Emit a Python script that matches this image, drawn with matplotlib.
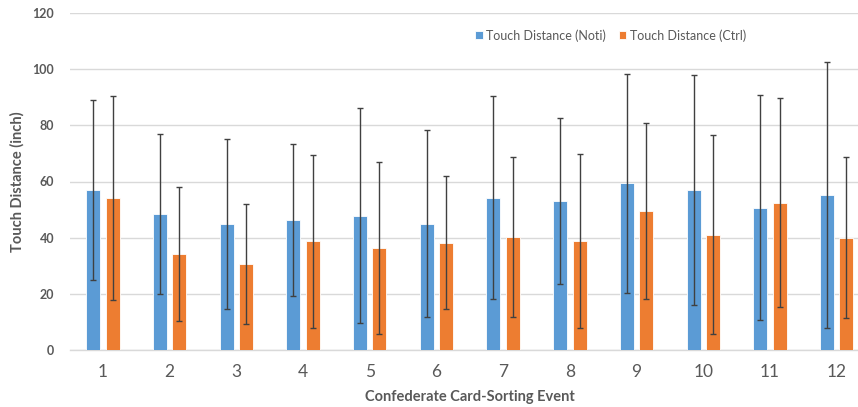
import numpy as np
import matplotlib
matplotlib.use("Agg")
import matplotlib.pyplot as plt

plt.rcParams['font.family'] = ['Lato', 'DejaVu Sans']

events = [str(i) for i in range(1, 13)]
noti_mean = [57.0, 48.4, 45.0, 46.2, 47.8, 45.0, 54.2, 53.0, 59.4, 57.0, 50.7, 55.3]
noti_sd = [31.9, 28.5, 30.3, 27.1, 38.2, 33.4, 36.2, 29.5, 39.0, 41.0, 40.0, 47.4]
ctrl_mean = [54.1, 34.2, 30.7, 38.7, 36.4, 38.2, 40.4, 38.7, 49.6, 41.0, 52.5, 40.0]
ctrl_sd = [36.3, 24.0, 21.4, 30.8, 30.7, 23.7, 28.5, 31.0, 31.4, 35.4, 37.1, 28.6]

blue = "#5B9BD5"
orange = "#ED7D31"
grey_text = "#595959"

fig = plt.figure(figsize=(8.58, 4.07), dpi=100)
ax = fig.add_axes([69.6 / 858, 57 / 407, (858 - 69.6) / 858, 337 / 407])

x = np.arange(1, len(events) + 1)
w = 0.21
off = 0.145
err_kw = dict(ecolor="#404040", elinewidth=1.0, capsize=2.5, capthick=1.0)

ax.bar(x - off, noti_mean, w, yerr=noti_sd, color=blue, edgecolor="white",
       linewidth=0.6, label="Touch Distance (Noti)", error_kw=err_kw, zorder=3)
ax.bar(x + off, ctrl_mean, w, yerr=ctrl_sd, color=orange, edgecolor="white",
       linewidth=0.6, label="Touch Distance (Ctrl)", error_kw=err_kw, zorder=3)

ax.set_xlim(0.5, 12.32)
ax.set_ylim(0, 120)
ax.set_yticks(range(0, 121, 20))
ax.set_xticks(x)
ax.set_xticklabels(events)

ax.grid(axis="y", color="#D9D9D9", linewidth=1.0, zorder=0)
for s in ["top", "right", "left"]:
    ax.spines[s].set_visible(False)
ax.spines["bottom"].set_color("#D9D9D9")
ax.spines["bottom"].set_linewidth(1.0)
ax.tick_params(axis="both", length=0)
ax.tick_params(axis="x", labelsize=12.5, colors=grey_text, pad=10)
ax.tick_params(axis="y", labelsize=9, colors=grey_text, pad=11)
for lab in ax.get_yticklabels():
    lab.set_fontweight("bold")

ax.set_xlabel("Confederate Card-Sorting Event", fontsize=10.5, fontweight="bold",
              color=grey_text)
ax.xaxis.set_label_coords((470 - 69.6) / 788.4, -(390 - 350) / 337)
ax.set_ylabel("Touch Distance (inch)", fontsize=10.5, fontweight="bold",
              color=grey_text)
ax.yaxis.set_label_coords(-(69.6 - 25) / 788.4, 0.5)

ax.legend(loc="upper left", bbox_to_anchor=(0.5, 0.985), ncol=2, frameon=False,
          fontsize=9, handlelength=0.6, handleheight=0.6, handletextpad=0.3,
          columnspacing=1.0, labelcolor=grey_text)

fig.savefig("out.png", dpi=100)
